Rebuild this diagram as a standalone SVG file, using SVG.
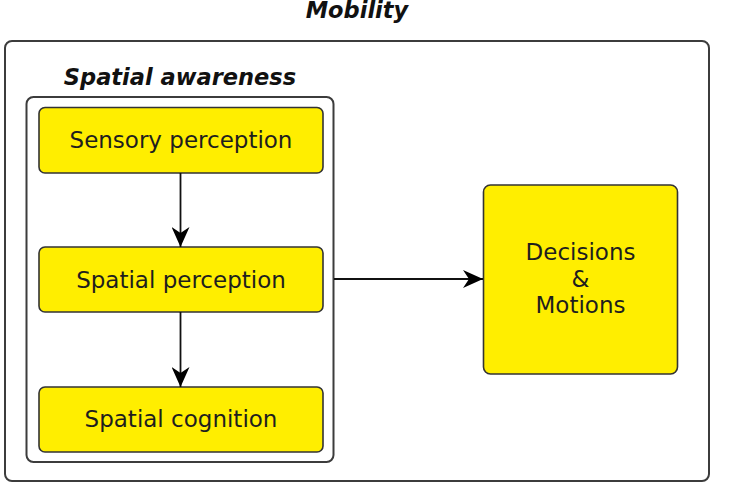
<svg xmlns="http://www.w3.org/2000/svg" width="735" height="483" viewBox="0 0 735 483">
<style>
.frame{fill:#ffffff;stroke:#3c3c3c;stroke-width:2}
.node{fill:#ffee00;stroke:#333333;stroke-width:1.6}
.lbl{font-family:"DejaVu Sans",sans-serif;font-size:23px;fill:#1e1e1e;text-anchor:middle}
.title{font-family:"DejaVu Sans",sans-serif;font-size:22.5px;font-weight:bold;font-style:italic;fill:#111111;text-anchor:middle}
.conn{stroke:#111111;stroke-width:1.8;fill:none;marker-end:url(#ah)}
</style>
<defs>
<marker id="ah" viewBox="0 0 20 18" refX="20" refY="9" markerWidth="20" markerHeight="18" markerUnits="userSpaceOnUse" orient="auto">
<path d="M0,0 L20,9 L0,18 L6,9 Z" fill="#000000"/>
</marker>
</defs>
<rect width="735" height="483" fill="#ffffff"/>
<g id="mobility">
<rect class="frame" x="5" y="41" width="704" height="440" rx="7"/>
<text class="title" x="357" y="18">Mobility</text>
</g>
<g id="spatial-awareness">
<rect class="frame" x="26.5" y="97" width="307" height="365" rx="7"/>
<text class="title" x="180" y="85">Spatial awareness</text>
</g>
<g id="sensory-perception">
<rect class="node" x="39" y="107.5" width="284" height="65.5" rx="6"/>
<text class="lbl" x="181" y="148">Sensory perception</text>
</g>
<g id="spatial-perception">
<rect class="node" x="39" y="247" width="284" height="65" rx="6"/>
<text class="lbl" x="181" y="288">Spatial perception</text>
</g>
<g id="spatial-cognition">
<rect class="node" x="39" y="387" width="284" height="65" rx="6"/>
<text class="lbl" x="181" y="427">Spatial cognition</text>
</g>
<g id="decisions-motions">
<rect class="node" x="483.5" y="185" width="194" height="189" rx="7"/>
<text class="lbl" x="580.5" y="260">Decisions</text>
<text class="lbl" x="580.5" y="287">&amp;</text>
<text class="lbl" x="580.5" y="313">Motions</text>
</g>
<g id="connectors">
<line class="conn" x1="180.5" y1="173" x2="180.5" y2="247"/>
<line class="conn" x1="180.5" y1="312" x2="180.5" y2="387"/>
<line class="conn" x1="334" y1="279" x2="483" y2="279"/>
</g>
</svg>
